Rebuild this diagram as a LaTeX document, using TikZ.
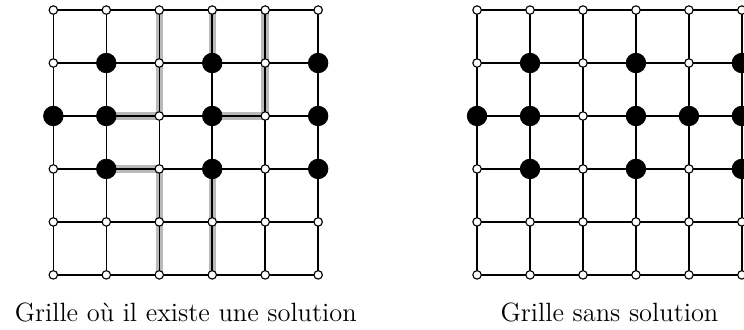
\documentclass[tikz,border=0pt]{standalone}
\usepackage{tikz}
\usetikzlibrary{positioning}
\usetikzlibrary{backgrounds}

\begin{document}
\begin{tikzpicture}[
    every node/.style={font=\fontsize{14.2pt}{17pt}\selectfont},
    libre/.style={circle, draw, fill=white, inner sep=0pt, minimum size=0.16cm, line width=0.6pt},
    pion/.style={circle, draw, fill=black, inner sep=0pt, minimum size=0.37cm},
    arete/.style={line width=0.8pt},
    chemin/.style={line width=4pt, gray!55},
    legende/.style={anchor=base}
]
\useasboundingbox (-1.007,-1.025) rectangle (13.04,5.19);
% grille de gauche
\foreach \x in {0,...,5}
  \foreach \y in {0,...,5}
    \node[libre] (g\x\y) at (\x,\y) {};
\foreach \x/\y in {1/4,3/4,5/4,0/3,1/3,3/3,5/3,1/2,3/2,5/2}
  \node[pion] (pg\x\y) at (g\x\y) {};
% grille de droite
\foreach \x in {0,...,5}
  \foreach \y in {0,...,5}
    \node[libre] (d\x\y) at (\x+8,\y) {};
\foreach \x/\y in {1/4,3/4,5/4,0/3,1/3,3/3,4/3,5/3,1/2,3/2,5/2}
  \node[pion] (pd\x\y) at (d\x\y) {};
\begin{scope}[on background layer]
\draw[chemin] (g25.center) -- (g23.center) -- (g13.center);
\draw[chemin] (g35.center) -- (g34.center);
\draw[chemin] (g45.center) -- (g43.center) -- (g33.center);
\draw[chemin] (g12.center) -- (g22.center) -- (g20.center);
\draw[chemin] (g32.center) -- (g30.center);
\foreach \i in {0,...,5} {
  \draw[arete] (g\i0.center) -- (g\i5.center);
  \draw[arete] (g0\i.center) -- (g5\i.center);
  \draw[arete] (d\i0.center) -- (d\i5.center);
  \draw[arete] (d0\i.center) -- (d5\i.center);
}
\end{scope}
\node[legende] (legg) at (2.5,-0.887) {Grille où il existe une solution};
\node[legende] (legd) at (10.5,-0.887) {Grille sans solution};
\end{tikzpicture}
\end{document}
